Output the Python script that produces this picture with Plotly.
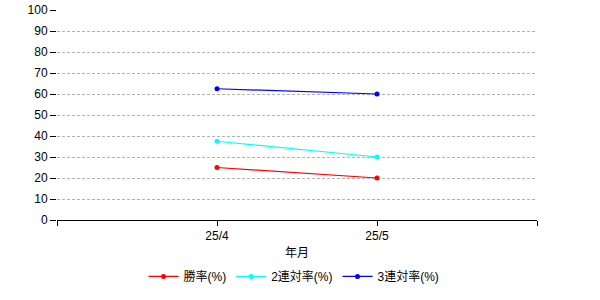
import plotly.graph_objects as go

months = ["25/4", "25/5"]
win_rate = [25, 20]
top2_rate = [37.5, 30]
top3_rate = [62.5, 60]
series_names = ["勝率(%)", "2連対率(%)", "3連対率(%)"]
colors = ["#ff0000", "#00ffff", "#0000ff"]
y_ticks = list(range(0, 101, 10))

xpos = [i + 1 for i in range(len(months))]
font = "Arial, Liberation Sans, Noto Sans CJK JP, sans-serif"

fig = go.Figure()
for name, vals, c in zip(series_names, [win_rate, top2_rate, top3_rate], colors):
    fig.add_trace(go.Scatter(x=xpos, y=vals, name=name, mode="lines+markers",
                             line=dict(color=c, width=1.2), marker=dict(color=c, size=5)))

fig.update_layout(
    width=600, height=300,
    margin=dict(l=57, r=63, t=10, b=80),
    paper_bgcolor="white", plot_bgcolor="white",
    font=dict(family=font, size=12, color="black"),
    showlegend=True,
    legend=dict(orientation="h", x=0.49, xanchor="center", xref="container",
                y=0.127, yanchor="top", yref="container",
                font=dict(size=12), itemwidth=30),
    xaxis=dict(range=[0, len(months) + 1], tickvals=list(range(len(months) + 2)),
               ticktext=[""] + months + [""], showgrid=False, zeroline=False,
               showline=True, linecolor="black", linewidth=1,
               ticks="outside", ticklen=5, tickcolor="black", automargin=False,
               title=dict(text="年月", standoff=6, font=dict(size=12))),
    yaxis=dict(range=[0, 100], tickvals=y_ticks, showgrid=True, gridcolor="#b4b4b4",
               griddash="3px,2px", gridwidth=1, zeroline=False, showline=False,
               ticks="outside", ticklen=6, tickcolor="black", automargin=False),
)
fig.write_html("out.html")
